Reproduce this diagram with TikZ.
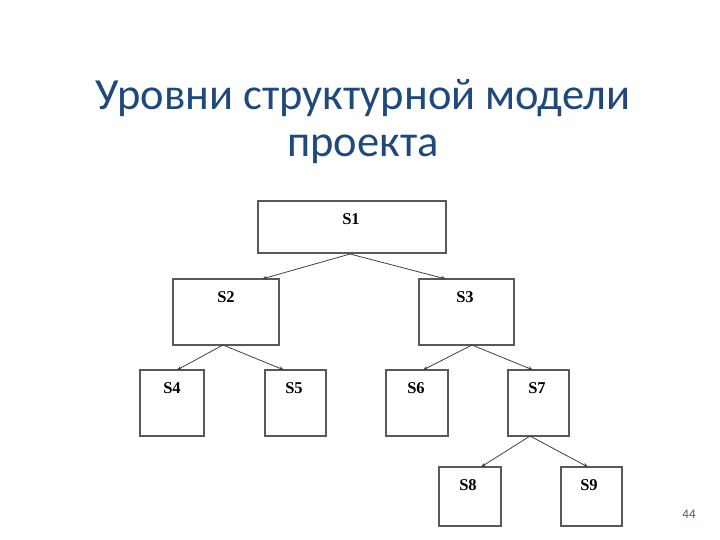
\documentclass[tikz,border=0pt]{standalone}
\usepackage{fontspec}
\setmainfont{Carlito}
\newfontfamily\serifb{Liberation Serif}
\usetikzlibrary{arrows.meta}
\definecolor{ttl}{HTML}{1F497D}
\begin{document}
\begin{tikzpicture}[x=1pt,y=-1pt,
  bx/.style={draw=black!65,line width=1.4pt},
  lb/.style={font=\serifb\bfseries\fontsize{16.5}{16.5}\selectfont},
  ar/.style={draw=black!75,line width=0.8pt,-{Stealth[length=5pt,width=4pt]}}]
\useasboundingbox (0,0) rectangle (720,540);
\node[text=ttl,font=\fontsize{44.5}{47}\selectfont,align=center] (title) at (363,122) {Уровни структурной модели\\проекта};
\node[text=ttl!70!gray,font=\fontsize{13}{13}\selectfont] (pg) at (689,514) {44};
\draw[bx] (258,201) rectangle (446,253);
\draw[bx] (173,279) rectangle (279,345);
\draw[bx] (419,279) rectangle (514,345);
\draw[bx] (140,370) rectangle (204,436);
\draw[bx] (265,370) rectangle (326,436);
\draw[bx] (386,370) rectangle (448,436);
\draw[bx] (508,370) rectangle (569,436);
\draw[bx] (439,467) rectangle (501,526);
\draw[bx] (561,467) rectangle (622,526);
\node[lb] (s1) at (351,219) {S1};
\node[lb] (s2) at (226,297) {S2};
\node[lb] (s3) at (465,297) {S3};
\node[lb] (s4) at (172,388) {S4};
\node[lb] (s5) at (294,388) {S5};
\node[lb] (s6) at (416,388) {S6};
\node[lb] (s7) at (537,388) {S7};
\node[lb] (s8) at (468,485) {S8};
\node[lb] (s9) at (589,485) {S9};
\coordinate (b1) at (350,254); \coordinate (t2) at (262,279); \coordinate (t3) at (446,279);
\coordinate (b2) at (223,345); \coordinate (t4) at (177,370); \coordinate (t5) at (284,370);
\coordinate (b3) at (472,345); \coordinate (t6) at (423,370); \coordinate (t7) at (533,370);
\coordinate (b7) at (530,436); \coordinate (t8) at (481,467); \coordinate (t9) at (588,467);
\draw[ar] (b1)--(t2); \draw[ar] (b1)--(t3);
\draw[ar] (b2)--(t4); \draw[ar] (b2)--(t5);
\draw[ar] (b3)--(t6); \draw[ar] (b3)--(t7);
\draw[ar] (b7)--(t8); \draw[ar] (b7)--(t9);
\end{tikzpicture}
\end{document}
